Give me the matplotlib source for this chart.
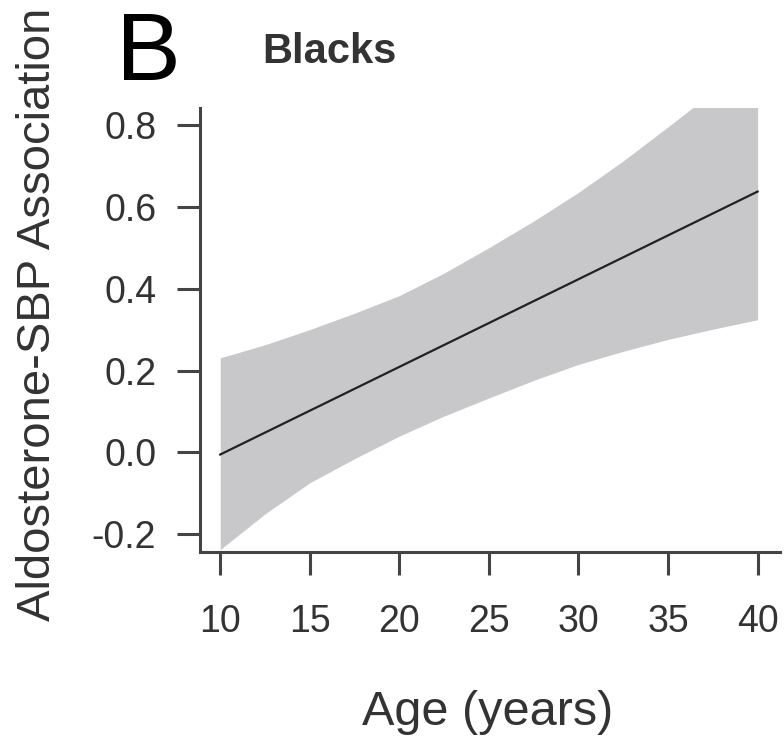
import matplotlib
matplotlib.use("Agg")
import matplotlib.pyplot as plt
import numpy as np

plt.rcParams['font.family'] = ['Liberation Sans', 'DejaVu Sans']

# Data
age = [10, 12.5, 15, 17.5, 20, 22.5, 25, 27.5, 30, 32.5, 35, 37.5, 40]
upper = [0.231, 0.263, 0.300, 0.340, 0.383, 0.438, 0.500, 0.565, 0.635, 0.712, 0.795, 0.880, 0.965]
lower = [-0.237, -0.150, -0.074, -0.015, 0.040, 0.089, 0.133, 0.176, 0.215, 0.247, 0.276, 0.301, 0.324]
line_x = [10, 40]
line_y = [-0.005, 0.637]
xticks = [10, 15, 20, 25, 30, 35, 40]
yticks = [-0.2, 0.0, 0.2, 0.4, 0.6, 0.8]
ytick_labels = ["-0.2", "0.0", "0.2", "0.4", "0.6", "0.8"]

W, H = 784, 738
fig = plt.figure(figsize=(W / 100, H / 100), dpi=100)
ax = fig.add_axes([200 / W, 1 - 552 / H, 580 / W, (552 - 108) / H])

ax.fill_between(age, lower, upper, color='#c8c8ca', linewidth=0)
ax.plot(line_x, line_y, color='#222222', linewidth=1.6)

ax.set_xlim(8.87, 41.25)
ax.set_ylim(-0.243, 0.841)
ax.set_xticks(xticks)
ax.set_yticks(yticks)
ax.set_yticklabels(ytick_labels)

for s in ['top', 'right']:
    ax.spines[s].set_visible(False)
for s in ['left', 'bottom']:
    ax.spines[s].set_color('#444444')
    ax.spines[s].set_linewidth(2.2)

ax.tick_params(axis='both', direction='out', length=16.5, width=2.2,
               color='#444444', labelcolor='#333333', labelsize=27)
ax.tick_params(axis='y', pad=15)
ax.tick_params(axis='x', pad=21)

fig.text(116 / W, 1 - 80 / H, "B", fontsize=70,
         color='black', ha='left', va='baseline')
fig.text(262 / W, 1 - 63 / H, "Blacks", fontsize=30, fontweight='bold',
         color='#333333', ha='left', va='baseline')
fig.text(38 / W, 1 - 314 / H, "Aldosterone-SBP Association", fontsize=34,
         rotation=90, color='#333333', ha='center', va='center')
fig.text(488 / W, 1 - 725 / H, "Age (years)", fontsize=35,
         color='#333333', ha='center', va='baseline')

fig.savefig("out.png", dpi=100)
